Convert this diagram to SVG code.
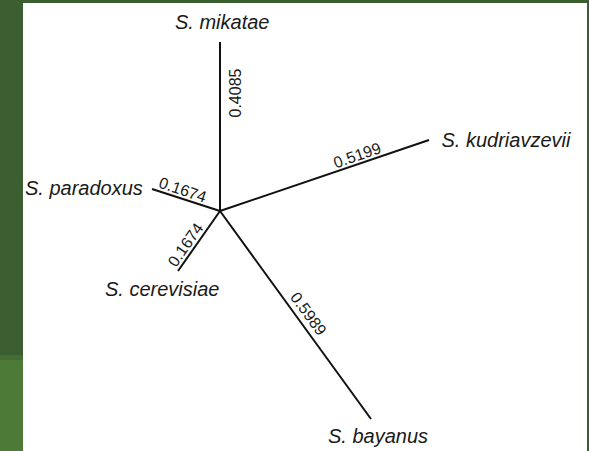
<svg xmlns="http://www.w3.org/2000/svg" width="589" height="451" viewBox="0 0 589 451">
  <style>
    .branch { stroke: #111; stroke-width: 2; stroke-linecap: butt; fill: none; }
    .taxon { font-family: "Liberation Sans", Arial, sans-serif; font-style: italic; font-size: 20px; fill: #1a1a1a; }
    .len { font-family: "Liberation Sans", Arial, sans-serif; font-size: 16px; fill: #1a1a1a; text-anchor: middle; }
  </style>

  <!-- slide background and white panel -->
  <rect x="0" y="0" width="589" height="451" fill="#3b5e31"/>
  <rect x="0" y="355" width="23" height="5" fill="#446c34"/>
  <rect x="0" y="360" width="23" height="91" fill="#4e7a37"/>
  <rect x="23" y="3" width="564" height="448" fill="#ffffff"/>

  <!-- branches of the unrooted tree, all from the central node -->
  <g id="connectors">
    <line class="branch" x1="220" y1="211" x2="220" y2="42"/>
    <line class="branch" x1="220" y1="211" x2="429" y2="140"/>
    <line class="branch" x1="220" y1="211" x2="152" y2="189"/>
    <line class="branch" x1="220" y1="211" x2="178" y2="271"/>
    <line class="branch" x1="220" y1="211" x2="371" y2="419"/>
  </g>

  <!-- branch lengths -->
  <g id="lengths">
    <text class="len" transform="translate(241,93) rotate(-90)">0.4085</text>
    <text class="len" transform="translate(359,160.5) rotate(-18.8)">0.5199</text>
    <text class="len" transform="translate(181,195) rotate(18.7)">0.1674</text>
    <text class="len" transform="translate(190,248) rotate(-55)">0.1674</text>
    <text class="len" transform="translate(304,317) rotate(54)">0.5989</text>
  </g>

  <!-- species -->
  <g id="mikatae"><text class="taxon" x="175" y="29">S. mikatae</text></g>
  <g id="kudriavzevii"><text class="taxon" x="441.5" y="146.5">S. kudriavzevii</text></g>
  <g id="paradoxus"><text class="taxon" x="25" y="195">S. paradoxus</text></g>
  <g id="cerevisiae"><text class="taxon" x="105" y="296">S. cerevisiae</text></g>
  <g id="bayanus"><text class="taxon" x="328" y="443">S. bayanus</text></g>
</svg>
